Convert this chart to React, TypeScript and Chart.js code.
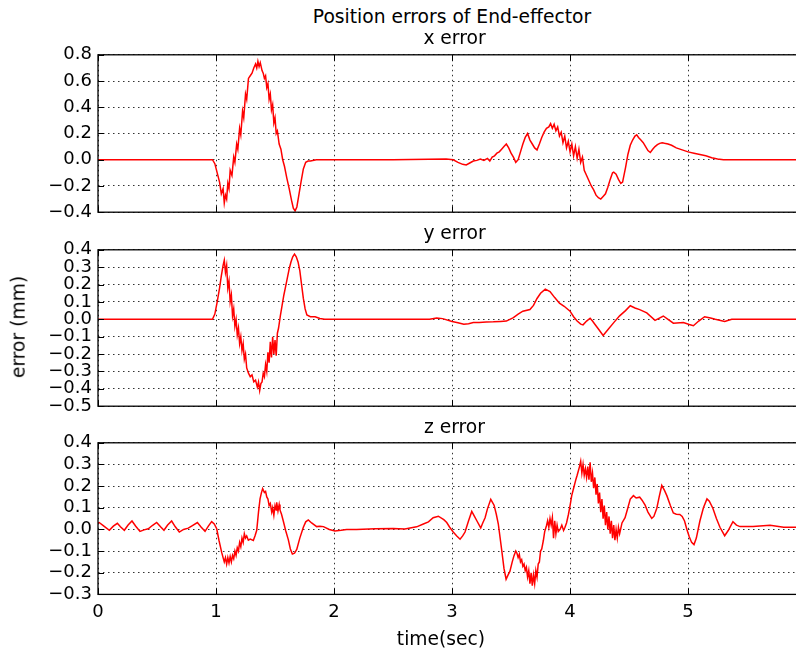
import React, { useEffect, useRef } from 'react';
import { Chart, registerables } from 'chart.js';

Chart.register(...registerables);

const FONT = '"DejaVu Sans", "Liberation Sans", sans-serif';

// ---------------- data ----------------
const timeTicks = [0, 1, 2, 3, 4, 5];
const xErrTicks = [-0.4, -0.2, 0.0, 0.2, 0.4, 0.6, 0.8];
const yErrTicks = [-0.5, -0.4, -0.3, -0.2, -0.1, 0.0, 0.1, 0.2, 0.3, 0.4];
const zErrTicks = [-0.3, -0.2, -0.1, 0.0, 0.1, 0.2, 0.3, 0.4];
const TIME_MAX = 6.05;

const xTime = [
  0, 0.5, 0.97, 0.99, 1.01, 1.03, 1.045, 1.06, 1.07, 1.08, 1.09, 1.1, 1.11, 1.12, 1.135, 1.15, 1.16, 1.175,
  1.185, 1.2, 1.21, 1.225, 1.235, 1.25, 1.26, 1.275, 1.29, 1.305, 1.32, 1.335, 1.345, 1.355, 1.365, 1.375,
  1.39, 1.4, 1.41, 1.42, 1.43, 1.44, 1.45, 1.46, 1.47, 1.48, 1.49, 1.5, 1.51, 1.52, 1.535, 1.55, 1.565,
  1.58, 1.6, 1.62, 1.64, 1.655, 1.67, 1.685, 1.7, 1.72, 1.74, 1.76, 1.78, 1.8, 1.85, 2.5, 2.95, 3.01,
  3.05, 3.09, 3.12, 3.15, 3.18, 3.21, 3.24, 3.27, 3.3, 3.32, 3.34, 3.36, 3.38, 3.4, 3.42, 3.44, 3.46, 3.48,
  3.5, 3.52, 3.54, 3.56, 3.58, 3.6, 3.62, 3.64, 3.66, 3.68, 3.7, 3.72, 3.74, 3.76, 3.78, 3.8, 3.82, 3.835,
  3.85, 3.865, 3.88, 3.895, 3.91, 3.925, 3.94, 3.955, 3.97, 3.985, 4.0, 4.015, 4.03, 4.045, 4.06, 4.075,
  4.09, 4.105, 4.12, 4.14, 4.16, 4.18, 4.2, 4.22, 4.24, 4.26, 4.28, 4.3, 4.32, 4.34, 4.36, 4.37, 4.39, 4.41,
  4.43, 4.445, 4.47, 4.49, 4.51, 4.53, 4.55, 4.565, 4.58, 4.6, 4.62, 4.64, 4.66, 4.68, 4.7, 4.72, 4.74,
  4.76, 4.78, 4.8, 4.83, 4.86, 4.9, 4.95, 5.0, 5.05, 5.1, 5.15, 5.2, 5.25, 5.3, 6.05,
];
const xErr = [
  0, 0, 0, -0.03, -0.1, -0.17, -0.26, -0.22, -0.33, -0.27, -0.3, -0.18, -0.22, -0.08, -0.12, 0.02, -0.02, 0.12,
  0.08, 0.24, 0.19, 0.37, 0.32, 0.5, 0.46, 0.62, 0.64, 0.66, 0.7, 0.73, 0.7, 0.75, 0.71, 0.74,
  0.68, 0.66, 0.62, 0.64, 0.55, 0.58, 0.46, 0.5, 0.38, 0.42, 0.28, 0.32, 0.2, 0.22, 0.12, 0.08, 0.0,
  -0.05, -0.14, -0.22, -0.31, -0.37, -0.39, -0.36, -0.28, -0.17, -0.07, -0.02, -0.01, -0.01, 0, 0, 0.005, 0,
  -0.02, -0.035, -0.04, -0.025, -0.01, -0.005, 0.005, -0.005, 0.01, -0.01, 0.02, 0.03, 0.05, 0.06, 0.08, 0.1, 0.12, 0.09,
  0.05, 0.02, -0.02, 0.0, 0.06, 0.12, 0.17, 0.2, 0.15, 0.12, 0.09, 0.075, 0.12, 0.17, 0.21, 0.24, 0.25, 0.275,
  0.24, 0.27, 0.22, 0.25, 0.18, 0.21, 0.13, 0.18, 0.09, 0.14, 0.06, 0.12, 0.03, 0.1, 0.01, 0.08,
  -0.02, 0.02, -0.08, -0.12, -0.16, -0.2, -0.23, -0.27, -0.29, -0.3, -0.28, -0.26, -0.21, -0.15, -0.1, -0.095, -0.11, -0.15,
  -0.18, -0.17, -0.06, 0.04, 0.11, 0.15, 0.18, 0.19, 0.17, 0.15, 0.13, 0.1, 0.07, 0.055, 0.08, 0.1, 0.115,
  0.125, 0.13, 0.125, 0.12, 0.11, 0.09, 0.075, 0.06, 0.05, 0.04, 0.03, 0.015, 0.005, 0, 0,
];

const yTime = [
  0, 0.5, 0.97, 0.99, 1.01, 1.03, 1.045, 1.06, 1.07, 1.08, 1.09, 1.1, 1.11, 1.12, 1.13, 1.14, 1.15, 1.16,
  1.17, 1.18, 1.19, 1.2, 1.21, 1.22, 1.23, 1.24, 1.25, 1.26, 1.275, 1.29, 1.305, 1.32, 1.335, 1.35, 1.36,
  1.37, 1.38, 1.39, 1.4, 1.41, 1.42, 1.43, 1.44, 1.45, 1.46, 1.47, 1.48, 1.49, 1.5, 1.51, 1.52, 1.53, 1.545,
  1.56, 1.575, 1.59, 1.605, 1.62, 1.635, 1.65, 1.665, 1.68, 1.695, 1.71, 1.725, 1.74, 1.755, 1.77, 1.8,
  1.84, 1.88, 1.92, 2.5, 2.81, 2.87, 2.92, 3.0, 3.05, 3.1, 3.14, 3.18, 3.23, 3.29, 3.35, 3.41, 3.46, 3.52,
  3.56, 3.6, 3.66, 3.69, 3.72, 3.75, 3.79, 3.83, 3.87, 3.91, 3.95, 4.0, 4.03, 4.06, 4.09, 4.11, 4.14, 4.17,
  4.19, 4.21, 4.245, 4.28, 4.32, 4.37, 4.42, 4.47, 4.51, 4.55, 4.59, 4.65, 4.72, 4.79, 4.83, 4.875, 4.96,
  5.01, 5.045, 5.09, 5.14, 5.19, 5.23, 5.31, 5.37, 6.05,
];
const yErr = [
  0, 0, 0, 0.03, 0.1, 0.18, 0.25, 0.31, 0.34, 0.27, 0.31, 0.18, 0.22, 0.1, 0.14, 0.02, 0.06, -0.04,
  0.0, -0.09, -0.05, -0.14, -0.1, -0.18, -0.14, -0.23, -0.2, -0.28, -0.31, -0.33, -0.32, -0.36, -0.35, -0.39, -0.36,
  -0.41, -0.37, -0.36, -0.31, -0.33, -0.26, -0.3, -0.19, -0.25, -0.13, -0.22, -0.1, -0.2, -0.12, -0.21, -0.08, -0.05, 0.02,
  0.08, 0.14, 0.19, 0.24, 0.29, 0.33, 0.36, 0.375, 0.36, 0.33, 0.28, 0.2, 0.12, 0.06, 0.025, 0.015,
  0.015, 0.005, 0.0, 0, 0, 0.008, 0.004, -0.013, -0.02, -0.028, -0.025, -0.019, -0.018, -0.015, -0.014, -0.012, -0.01, 0.01,
  0.03, 0.047, 0.056, 0.08, 0.12, 0.15, 0.174, 0.16, 0.125, 0.093, 0.075, 0.047, 0.015, -0.01, -0.028, -0.032, -0.01, 0.006,
  -0.01, -0.028, -0.06, -0.093, -0.06, -0.019, 0.02, 0.05, 0.078, 0.065, 0.056, 0.037, -0.006, 0.019, 0.0, -0.022, -0.019,
  -0.03, -0.037, -0.01, 0.015, 0.008, 0.0, -0.013, 0.0, 0,
];

const zTime = [
  0, 0.01, 0.05, 0.096, 0.13, 0.164, 0.19, 0.223, 0.255, 0.288, 0.32, 0.356, 0.39, 0.426, 0.46, 0.497, 0.53,
  0.559, 0.59, 0.624, 0.655, 0.689, 0.725, 0.765, 0.8, 0.842, 0.875, 0.907, 0.935, 0.963, 0.985, 1.006, 1.025,
  1.048, 1.06, 1.07, 1.08, 1.09, 1.1, 1.11, 1.12, 1.13, 1.14, 1.15, 1.16, 1.17, 1.18, 1.19, 1.2, 1.21, 1.22,
  1.23, 1.24, 1.25, 1.26, 1.274, 1.29, 1.316, 1.33, 1.345, 1.36, 1.373, 1.385, 1.395, 1.41, 1.42, 1.43, 1.44,
  1.45, 1.46, 1.472, 1.48, 1.49, 1.5, 1.51, 1.514, 1.525, 1.535, 1.542, 1.555, 1.57, 1.59, 1.613, 1.63, 1.647,
  1.665, 1.684, 1.71, 1.74, 1.76, 1.782, 1.81, 1.853, 1.88, 1.91, 1.96, 2.008, 2.06, 2.107, 2.19, 2.35, 2.5,
  2.6, 2.7, 2.757, 2.8, 2.84, 2.884, 2.93, 2.955, 2.98, 3.01, 3.04, 3.068, 3.09, 3.11, 3.14, 3.167, 3.19, 3.21,
  3.243, 3.26, 3.28, 3.3, 3.328, 3.356, 3.375, 3.392, 3.42, 3.44, 3.458, 3.475, 3.49, 3.51, 3.525, 3.54, 3.55,
  3.56, 3.57, 3.58, 3.59, 3.6, 3.61, 3.62, 3.63, 3.64, 3.65, 3.66, 3.67, 3.68, 3.69, 3.7, 3.71, 3.72, 3.73,
  3.74, 3.75, 3.76, 3.774, 3.785, 3.8, 3.81, 3.82, 3.83, 3.84, 3.85, 3.86, 3.87, 3.88, 3.89, 3.9, 3.915, 3.93,
  3.945, 3.957, 3.97, 3.986, 4.0, 4.014, 4.03, 4.05, 4.06, 4.07, 4.08, 4.09, 4.1, 4.11, 4.12, 4.13, 4.14, 4.15,
  4.16, 4.17, 4.18, 4.19, 4.2, 4.21, 4.22, 4.23, 4.24, 4.25, 4.26, 4.27, 4.28, 4.29, 4.3, 4.31, 4.32, 4.33,
  4.34, 4.35, 4.36, 4.37, 4.38, 4.39, 4.4, 4.41, 4.42, 4.44, 4.466, 4.49, 4.51, 4.537, 4.56, 4.59, 4.61, 4.636,
  4.66, 4.692, 4.71, 4.735, 4.755, 4.777, 4.8, 4.82, 4.85, 4.875, 4.9, 4.93, 4.95, 4.97, 4.99, 5.01, 5.03,
  5.05, 5.07, 5.1, 5.13, 5.16, 5.18, 5.21, 5.24, 5.27, 5.31, 5.34, 5.38, 5.41, 5.44, 5.55, 5.695, 5.81, 6.05,
];
const zErr = [
  0.03, 0.032, 0.015, -0.004, 0.015, 0.028, 0.012, -0.004, 0.02, 0.039, 0.015, -0.009, -0.002, 0.003, 0.018, 0.032, 0.012,
  -0.004, 0.02, 0.039, 0.012, -0.012, 0.0, 0.006, 0.018, 0.032, 0.01, -0.009, 0.015, 0.036, 0.025, 0.003, -0.05,
  -0.106, -0.13, -0.15, -0.13, -0.16, -0.13, -0.155, -0.125, -0.15, -0.12, -0.135, -0.1, -0.12, -0.085, -0.1, -0.06, -0.08, -0.04,
  -0.06, -0.02, -0.04, -0.03, -0.05, -0.045, -0.051, -0.03, -0.004, 0.08, 0.141, 0.17, 0.188, 0.17, 0.175, 0.15, 0.14,
  0.11, 0.12, 0.08, 0.1, 0.065, 0.11, 0.09, 0.125, 0.085, 0.115, 0.09, 0.07, 0.039, -0.005, -0.048, -0.09, -0.114,
  -0.11, -0.092, -0.04, 0.01, 0.035, 0.044, 0.03, 0.013, 0.015, 0.013, 0.0, -0.007, -0.004, 0.0, 0.0, 0.003, 0.004,
  0.002, 0.012, 0.025, 0.035, 0.054, 0.061, 0.045, 0.032, 0.01, -0.012, -0.03, -0.045, -0.03, -0.012, 0.04, 0.083, 0.06, 0.04,
  0.007, 0.03, 0.054, 0.095, 0.139, 0.112, 0.07, 0.025, -0.092, -0.18, -0.23, -0.21, -0.194, -0.15, -0.121, -0.1, -0.11,
  -0.13, -0.115, -0.15, -0.14, -0.17, -0.16, -0.19, -0.175, -0.22, -0.19, -0.25, -0.2, -0.26, -0.21, -0.25, -0.19, -0.22, -0.16,
  -0.15, -0.1, -0.09, -0.05, -0.01, 0.017, 0.04, 0.01, 0.05, 0.02, 0.055, -0.04, 0.04, -0.02, 0.02, -0.01, 0.0, 0.02,
  -0.005, 0.01, 0.03, 0.069, 0.11, 0.156, 0.19, 0.232, 0.25, 0.27, 0.29, 0.315, 0.26, 0.3, 0.25, 0.28, 0.24, 0.29,
  0.23, 0.31, 0.22, 0.26, 0.19, 0.24, 0.16, 0.21, 0.12, 0.17, 0.08, 0.14, 0.05, 0.11, 0.02, 0.08, 0.0, 0.06,
  -0.02, 0.04, -0.04, 0.02, -0.05, 0.0, -0.04, 0.01, -0.02, 0.03, 0.054, 0.1, 0.14, 0.156, 0.145, 0.149, 0.135, 0.112,
  0.08, 0.051, 0.06, 0.098, 0.15, 0.203, 0.18, 0.156, 0.11, 0.076, 0.07, 0.069, 0.06, 0.039, 0.0, -0.034, -0.06,
  -0.07, -0.04, 0.039, 0.1, 0.141, 0.13, 0.098, 0.05, 0.01, -0.029, -0.005, 0.036, 0.02, 0.013, 0.013, 0.019, 0.01, 0.01,
];

// ---------------- rendering ----------------
const fmt = (v: number) => {
  const s = Math.abs(v) < 1e-9 ? '0.0' : v.toFixed(1);
  return s.replace('-', '\u2212');
};

const framePlugin = {
  id: 'mplFrame',
  afterDraw(chart: any) {
    const { ctx, chartArea: a, scales } = chart;
    ctx.save();
    ctx.strokeStyle = '#000';
    ctx.lineWidth = 1;
    ctx.setLineDash([]);
    ctx.beginPath();
    for (const v of timeTicks) {
      const px = Math.round(scales.x.getPixelForValue(v)) + 0.5;
      ctx.moveTo(px, a.top);
      ctx.lineTo(px, a.top + 6);
      ctx.moveTo(px, a.bottom);
      ctx.lineTo(px, a.bottom - 6);
    }
    for (const t of scales.y.ticks) {
      const py = Math.round(scales.y.getPixelForValue(t.value)) + 0.5;
      ctx.moveTo(a.left, py);
      ctx.lineTo(a.left + 6, py);
      ctx.moveTo(a.right, py);
      ctx.lineTo(a.right - 6, py);
    }
    ctx.stroke();
    ctx.lineWidth = 1.3;
    ctx.strokeRect(a.left, a.top, a.right - a.left, a.bottom - a.top);
    ctx.restore();
  },
};

type PanelProps = {
  times: number[];
  values: number[];
  ticks: number[];
  top: number;
  height: number;
  showX: boolean;
};

function Panel({ times, values, ticks, top, height, showX }: PanelProps) {
  const ref = useRef<HTMLCanvasElement | null>(null);
  useEffect(() => {
    if (!ref.current) return;
    const points = times.map((t, i) => ({ x: t, y: values[i] }));
    const chart = new Chart(ref.current, {
      type: 'line',
      data: {
        datasets: [
          {
            data: points,
            borderColor: '#ff0000',
            borderWidth: 1.5,
            pointRadius: 0,
            tension: 0,
            fill: false,
          },
        ],
      },
      options: {
        animation: false,
        responsive: false,
        maintainAspectRatio: false,
        devicePixelRatio: 1,
        layout: { padding: { top: 15, bottom: showX ? 6 : 15, left: 0, right: 0 } },
        plugins: {
          legend: { display: false },
          tooltip: { enabled: false },
          title: { display: false },
        },
        scales: {
          x: {
            type: 'linear',
            min: 0,
            max: TIME_MAX,
            afterBuildTicks: (s: any) => {
              s.ticks = timeTicks.map((v) => ({ value: v }));
            },
            grid: { color: 'rgba(0,0,0,0.8)', lineWidth: 1, drawTicks: false },
            border: { display: false, dash: [1.5, 3.5] },
            ticks: {
              display: showX,
              padding: 7,
              color: '#000',
              maxRotation: 0,
              autoSkip: false,
              font: { family: FONT, size: 18 },
              callback: (v: any) => String(v),
            },
          },
          y: {
            type: 'linear',
            min: ticks[0],
            max: ticks[ticks.length - 1],
            afterBuildTicks: (s: any) => {
              s.ticks = ticks.map((v) => ({ value: v }));
            },
            afterFit: (s: any) => {
              s.width = 98;
            },
            grid: { color: 'rgba(0,0,0,0.8)', lineWidth: 1, drawTicks: false },
            border: { display: false, dash: [1.5, 3.5] },
            ticks: {
              padding: 6,
              color: '#000',
              autoSkip: false,
              font: { family: FONT, size: 18 },
              callback: (v: any) => fmt(Number(v)),
            },
          },
        },
      },
      plugins: [framePlugin],
    } as any);
    return () => chart.destroy();
  }, [times, values, ticks, showX]);

  return (
    <canvas
      ref={ref}
      width={812}
      height={height}
      style={{ position: 'absolute', left: 0, top, width: 812, height, display: 'block' }}
    />
  );
}

const textBase: React.CSSProperties = {
  position: 'absolute',
  fontFamily: FONT,
  lineHeight: 1,
  whiteSpace: 'nowrap',
  color: '#000',
};

export default function App() {
  return (
    <div
      style={{
        position: 'absolute',
        left: 0,
        top: 0,
        width: 796,
        height: 656,
        overflow: 'hidden',
        background: '#fff',
      }}
    >
      <Panel times={xTime} values={xErr} ticks={xErrTicks} top={38} height={191} showX={false} />
      <Panel times={yTime} values={yErr} ticks={yErrTicks} top={233} height={190} showX={false} />
      <Panel times={zTime} values={zErr} ticks={zErrTicks} top={426} height={210} showX={true} />

      <div style={{ ...textBase, fontSize: 18.7, left: 452, top: 7.5, transform: 'translateX(-50%)' }}>
        Position errors of End-effector
      </div>
      <div style={{ ...textBase, fontSize: 18.7, left: 454.5, top: 29.2, transform: 'translateX(-50%)' }}>
        x error
      </div>
      <div style={{ ...textBase, fontSize: 18.7, left: 454.5, top: 224.2, transform: 'translateX(-50%)' }}>
        y error
      </div>
      <div style={{ ...textBase, fontSize: 18.7, left: 454.5, top: 417.5, transform: 'translateX(-50%)' }}>
        z error
      </div>
      <div style={{ ...textBase, fontSize: 18.7, left: 441, top: 630, transform: 'translateX(-50%)' }}>
        time(sec)
      </div>
      <div
        style={{
          ...textBase,
          fontSize: 18.7,
          left: 19,
          top: 327,
          transform: 'translate(-50%, -50%) rotate(-90deg)',
        }}
      >
        error (mm)
      </div>
    </div>
  );
}
